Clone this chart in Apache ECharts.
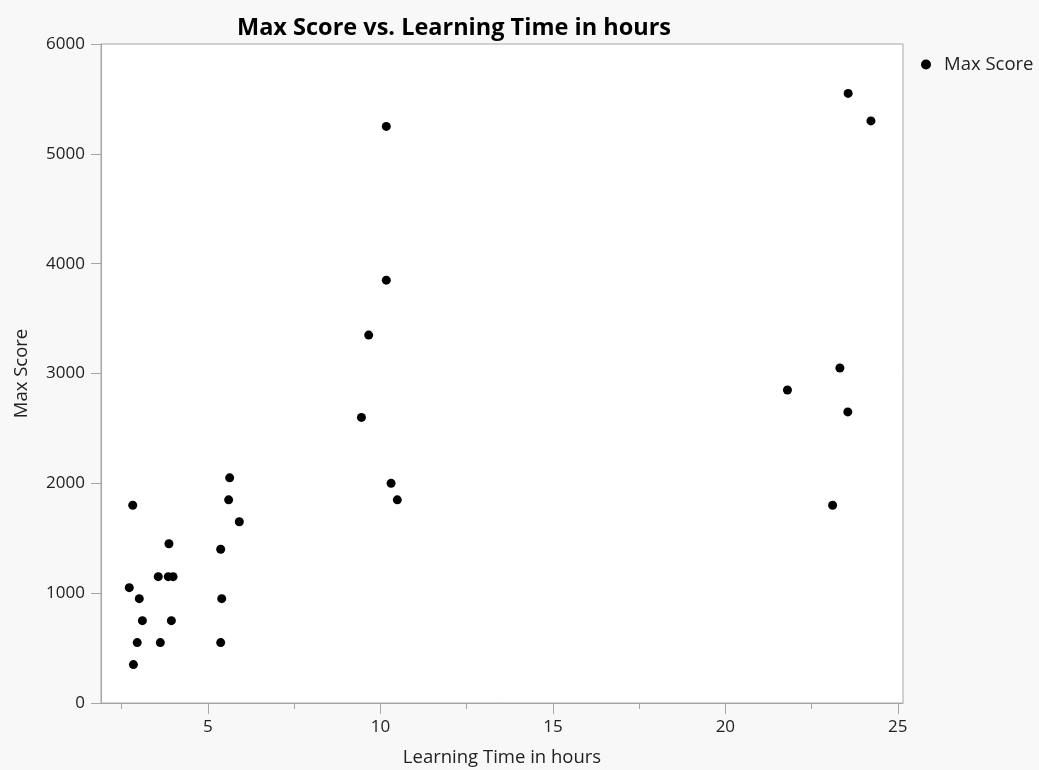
<!DOCTYPE html>
<html>
<head>
<meta charset="utf-8">
<script src="https://cdn.jsdelivr.net/npm/echarts@6/dist/echarts.min.js"></script>
<style>
html,body{margin:0;padding:0;background:#f8f8f8;}
#chart{width:1039px;height:770px;}
</style>
</head>
<body>
<div id="chart"></div>
<script>
var learningHours = [2.82, 3.87, 3.56, 3.85, 3.99, 2.72, 3.01, 3.10, 3.94, 2.95, 3.62, 2.84,
  5.60, 5.63, 5.91, 5.37, 5.40, 5.37,
  10.17, 10.17, 9.66, 9.45, 10.31, 10.49,
  23.56, 24.22, 23.32, 21.80, 23.55, 23.11];
var maxScores = [1800, 1450, 1150, 1150, 1150, 1050, 950, 750, 750, 550, 550, 350,
  1850, 2050, 1650, 1400, 950, 550,
  5250, 3850, 3350, 2600, 2000, 1850,
  5550, 5300, 3050, 2850, 2650, 1800];
var xMajorTicks = [5, 10, 15, 20, 25];
var xMinorTicks = [2.5, 7.5, 12.5, 17.5, 22.5];
var yTicks = [0, 1000, 2000, 3000, 4000, 5000, 6000];

var points = learningHours.map(function (h, i) { return [h, maxScores[i]]; });
var font = "'Open Sans', 'Noto Sans', sans-serif";
var axisColor = '#a6a6a6';
var textColor = '#222';

var chart = echarts.init(document.getElementById('chart'));
chart.setOption({
  backgroundColor: '#f8f8f8',
  animation: false,
  title: {
    text: 'Max Score vs. Learning Time in hours',
    left: 449, top: 11, textAlign: 'center',
    textStyle: { fontFamily: font, fontSize: 23.5, fontWeight: 'bold', color: '#000' }
  },
  legend: {
    left: 916, top: 50,
    itemWidth: 10, itemHeight: 10,
    icon: 'circle',
    textStyle: { fontFamily: font, fontSize: 18.5, color: textColor, padding: [0, 0, 0, 8] },
    data: ['Max Score']
  },
  grid: {
    left: 101, top: 44, right: 136, bottom: 67,
    outerBoundsMode: 'none', containLabel: false,
    show: true, backgroundColor: '#ffffff', borderColor: axisColor, borderWidth: 1
  },
  xAxis: [{
    type: 'value', min: 1.9, max: 25.15,
    name: 'Learning Time in hours', nameLocation: 'middle', nameGap: 45,
    nameTextStyle: { fontFamily: font, fontSize: 18.5, color: textColor },
    axisLine: { show: true, lineStyle: { color: axisColor } },
    axisTick: { show: true, length: 11, customValues: xMajorTicks, lineStyle: { color: axisColor } },
    axisLabel: { customValues: xMajorTicks, fontFamily: font, fontSize: 17, color: textColor, margin: 16 },
    splitLine: { show: false }
  }, {
    type: 'value', min: 1.9, max: 25.15, position: 'bottom',
    axisLine: { show: false },
    axisTick: { show: true, length: 6, customValues: xMinorTicks, lineStyle: { color: axisColor } },
    axisLabel: { show: false },
    splitLine: { show: false }
  }],
  yAxis: {
    type: 'value', min: 0, max: 6000, interval: 1000,
    name: 'Max Score', nameLocation: 'middle', nameGap: 70, nameRotate: 90,
    nameTextStyle: { fontFamily: font, fontSize: 18.5, color: textColor },
    axisLine: { show: true, lineStyle: { color: axisColor } },
    axisTick: { show: true, length: 10, lineStyle: { color: axisColor } },
    axisLabel: { fontFamily: font, fontSize: 17, color: textColor, margin: 16,
      formatter: function (v) { return yTicks.indexOf(v) >= 0 ? String(v) : ''; } },
    splitLine: { show: false }
  },
  series: [{
    name: 'Max Score', type: 'scatter', xAxisIndex: 0,
    symbol: 'circle', symbolSize: 9,
    itemStyle: { color: '#000', opacity: 1 },
    data: points
  }]
});
</script>
</body>
</html>
